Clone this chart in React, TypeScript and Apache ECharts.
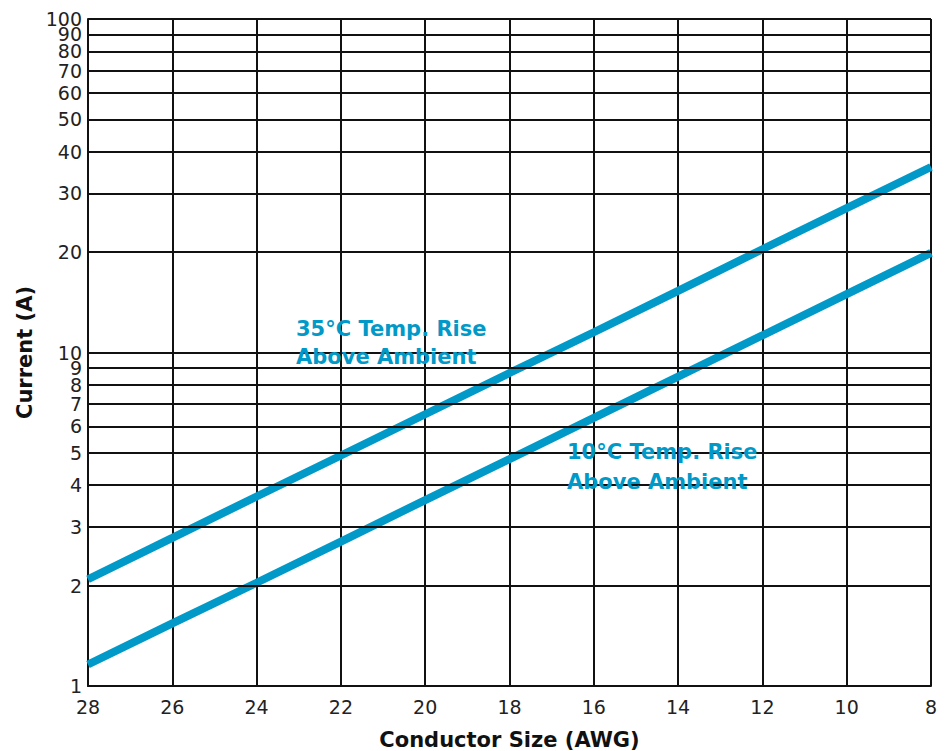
import React, { useEffect, useRef } from "react";
import * as echarts from "echarts";

const awg = [28, 26, 24, 22, 20, 18, 16, 14, 12, 10, 8];
const rise35 = [2.09, 2.78, 3.7, 4.91, 6.53, 8.68, 11.5, 15.3, 20.4, 27.1, 36.0];
const rise10 = [1.16, 1.54, 2.04, 2.71, 3.61, 4.79, 6.37, 8.47, 11.25, 14.96, 19.9];
const yGrid = [1, 2, 3, 4, 5, 6, 7, 8, 9, 10, 20, 30, 40, 50, 60, 70, 80, 90, 100];
const label35 = "35°C Temp. Rise\nAbove Ambient";
const label10 = "10°C Temp. Rise\nAbove Ambient";

const BLUE = "#0099c8";
const FONT = "'DejaVu Sans', 'Open Sans', sans-serif";

export default function App() {
  const ref = useRef<HTMLDivElement>(null);
  useEffect(() => {
    if (!ref.current) return;
    const prevMargin = document.body.style.margin;
    document.body.style.margin = "0";
    const chart = echarts.init(ref.current, undefined, { renderer: "svg", width: 947, height: 751 });
    chart.setOption({
      animation: false,
      textStyle: { fontFamily: FONT },
      grid: {
        left: 88,
        right: 16,
        top: 19,
        bottom: 65,
        containLabel: false,
        outerBoundsMode: "none",
      },
      xAxis: {
        type: "value",
        inverse: true,
        min: 8,
        max: 28,
        interval: 2,
        axisLine: { show: true, lineStyle: { color: "#111", width: 2 } },
        axisTick: { show: false },
        axisLabel: { fontSize: 19, color: "#222", margin: 11, fontFamily: FONT },
        splitLine: { show: true, lineStyle: { color: "#111", width: 2 } },
        name: "Conductor Size (AWG)",
        nameLocation: "middle",
        nameGap: 43,
        nameTextStyle: { fontSize: 21, fontWeight: "bold", color: "#111", fontFamily: FONT },
      },
      yAxis: {
        type: "log",
        logBase: 10,
        min: 1,
        max: 100,
        axisLine: { show: true, lineStyle: { color: "#111", width: 2 } },
        axisTick: { show: false },
        axisLabel: { show: false },
        splitLine: { show: false },
        name: "Current (A)",
        nameLocation: "middle",
        nameGap: 53,
        nameTextStyle: { fontSize: 21, fontWeight: "bold", color: "#111", fontFamily: FONT },
      },
      series: [
        {
          name: "grid",
          type: "line",
          data: [],
          z: 1,
          silent: true,
          markLine: {
            silent: true,
            symbol: "none",
            animation: false,
            lineStyle: { color: "#111", width: 2, type: "solid" },
            label: {
              show: true,
              position: "start",
              distance: 6,
              formatter: "{c}",
              fontSize: 19,
              lineHeight: 14,
              color: "#222",
              fontFamily: FONT,
            },
            emphasis: { disabled: true },
            data: yGrid.map((v) => [
              { coord: [28, v], value: v },
              { coord: [8, v], value: v },
            ]),
          },
        },
        {
          name: "35°C",
          type: "line",
          z: 3,
          showSymbol: false,
          symbol: "none",
          lineStyle: { color: BLUE, width: 8, cap: "butt" },
          data: awg.map((a, i) => [a, rise35[i]]),
        },
        {
          name: "10°C",
          type: "line",
          z: 3,
          showSymbol: false,
          symbol: "none",
          lineStyle: { color: BLUE, width: 8, cap: "butt" },
          data: awg.map((a, i) => [a, rise10[i]]),
        },
      ],
      graphic: [
        {
          type: "text",
          left: 296,
          top: 315,
          z: 10,
          style: {
            text: label35,
            fill: BLUE,
            font: `bold 21px ${FONT}`,
            lineHeight: 28,
          },
        },
        {
          type: "text",
          left: 567,
          top: 437,
          z: 10,
          style: {
            text: label10,
            fill: BLUE,
            font: `bold 21px ${FONT}`,
            lineHeight: 30,
          },
        },
      ],
    });
    return () => {
      chart.dispose();
      document.body.style.margin = prevMargin;
    };
  }, []);
  return (
    <div
      ref={ref}
      style={{ position: "absolute", left: 0, top: 0, width: 947, height: 751, background: "#fff" }}
    />
  );
}
